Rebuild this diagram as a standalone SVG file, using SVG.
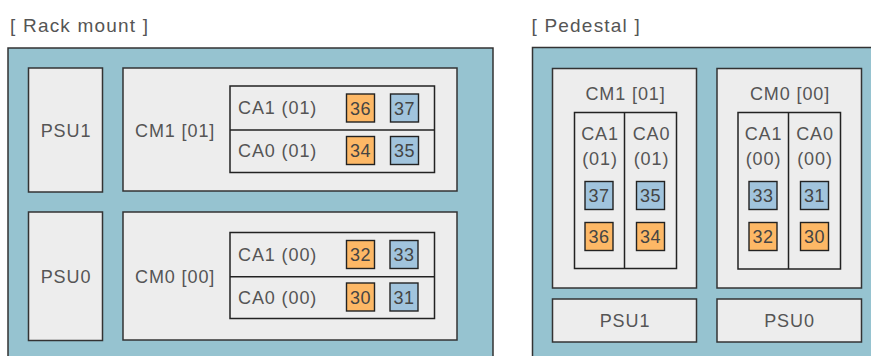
<svg xmlns="http://www.w3.org/2000/svg" width="871" height="356" viewBox="0 0 871 356">
<style>
  .enc { fill: #96C3D0; stroke: #333; stroke-width: 1.5; }
  .box { fill: #EDEDED; stroke: #333; stroke-width: 1.5; }
  .ca { fill: #EDEDED; stroke: #222; stroke-width: 1.5; }
  .div { stroke: #222; stroke-width: 1.5; }
  .o { fill: #FDB866; stroke: #222; stroke-width: 1.4; }
  .b { fill: #A1C4DD; stroke: #222; stroke-width: 1.4; }
  text { font-family: "Liberation Sans", Arial, sans-serif; fill: #555; }
  .ttl { font-size: 19px; letter-spacing: 1.2px; }
  .lbl { font-size: 18px; letter-spacing: 0.9px; }
  .mid { text-anchor: middle; }
  .num { font-size: 18px; letter-spacing: 0.4px; text-anchor: middle; fill: #444; }
</style>

<text class="ttl" x="10" y="31.5">[ Rack mount ]</text>
<text class="ttl" x="531.5" y="31.5">[ Pedestal ]</text>

<g id="rack">
  <rect class="enc" x="8" y="48" width="485" height="330"/>
  <g id="rack-psu1">
    <rect class="box" x="28.5" y="68" width="74" height="124"/>
    <text class="lbl mid" x="66" y="136.5">PSU1</text>
  </g>
  <g id="rack-cm1">
    <rect class="box" x="123" y="68" width="334" height="123"/>
    <text class="lbl" x="135" y="136.5">CM1 [01]</text>
    <rect class="ca" x="230" y="86" width="204.5" height="86.5"/>
    <line class="div" x1="230" y1="130" x2="434.5" y2="130"/>
    <text class="lbl" x="238" y="113.5">CA1 (01)</text>
    <text class="lbl" x="238" y="157">CA0 (01)</text>
    <rect class="o" x="346.5" y="94" width="28" height="28"/>
    <text class="num" x="360.5" y="114.5">36</text>
    <rect class="b" x="390.5" y="94" width="28" height="28"/>
    <text class="num" x="404.5" y="114.5">37</text>
    <rect class="o" x="346.5" y="136.5" width="28" height="28"/>
    <text class="num" x="360.5" y="157">34</text>
    <rect class="b" x="390.5" y="136.5" width="28" height="28"/>
    <text class="num" x="404.5" y="157">35</text>
  </g>
  <g id="rack-psu0">
    <rect class="box" x="28.5" y="212" width="74" height="128.5"/>
    <text class="lbl mid" x="66" y="282.5">PSU0</text>
  </g>
  <g id="rack-cm0">
    <rect class="box" x="123" y="212" width="334" height="128"/>
    <text class="lbl" x="135" y="282.5">CM0 [00]</text>
    <rect class="ca" x="230" y="232.5" width="204.5" height="86"/>
    <line class="div" x1="230" y1="276.7" x2="434.5" y2="276.7"/>
    <text class="lbl" x="238" y="260.5">CA1 (00)</text>
    <text class="lbl" x="238" y="303.5">CA0 (00)</text>
    <rect class="o" x="346.5" y="240.5" width="28" height="28"/>
    <text class="num" x="360.5" y="261">32</text>
    <rect class="b" x="390" y="240.5" width="28" height="28"/>
    <text class="num" x="404" y="261">33</text>
    <rect class="o" x="346.5" y="283" width="28" height="28"/>
    <text class="num" x="360.5" y="303.5">30</text>
    <rect class="b" x="390" y="283" width="28" height="28"/>
    <text class="num" x="404" y="303.5">31</text>
  </g>
</g>

<g id="pedestal">
  <rect class="enc" x="532.5" y="47.5" width="400" height="330"/>
  <g id="ped-cm1">
    <rect class="box" x="552.5" y="68.5" width="144" height="219.5"/>
    <text class="lbl mid" x="625.5" y="100">CM1 [01]</text>
    <rect class="ca" x="574.5" y="112.5" width="102" height="156"/>
    <line class="div" x1="624.5" y1="112.5" x2="624.5" y2="268.5"/>
    <text class="lbl mid" x="600" y="140">CA1</text>
    <text class="lbl mid" x="600" y="165">(01)</text>
    <text class="lbl mid" x="651.5" y="140">CA0</text>
    <text class="lbl mid" x="651.5" y="165">(01)</text>
    <rect class="b" x="585" y="181.5" width="28" height="28"/>
    <text class="num" x="599" y="202">37</text>
    <rect class="o" x="585" y="222.5" width="28" height="28"/>
    <text class="num" x="599" y="243">36</text>
    <rect class="b" x="636.5" y="181.5" width="28" height="28"/>
    <text class="num" x="650.5" y="202">35</text>
    <rect class="o" x="636.5" y="222.5" width="28" height="28"/>
    <text class="num" x="650.5" y="243">34</text>
  </g>
  <g id="ped-cm0">
    <rect class="box" x="717" y="68.5" width="144.5" height="219.5"/>
    <text class="lbl mid" x="790" y="100">CM0 [00]</text>
    <rect class="ca" x="738" y="112.5" width="102.5" height="156.5"/>
    <line class="div" x1="788.5" y1="112.5" x2="788.5" y2="269"/>
    <text class="lbl mid" x="763.5" y="140">CA1</text>
    <text class="lbl mid" x="763.5" y="165">(00)</text>
    <text class="lbl mid" x="815" y="140">CA0</text>
    <text class="lbl mid" x="815" y="165">(00)</text>
    <rect class="b" x="749" y="181.5" width="28" height="28"/>
    <text class="num" x="763" y="202">33</text>
    <rect class="o" x="749" y="222.5" width="28" height="28"/>
    <text class="num" x="763" y="243">32</text>
    <rect class="b" x="800.5" y="181.5" width="28" height="28"/>
    <text class="num" x="814.5" y="202">31</text>
    <rect class="o" x="800.5" y="222.5" width="28" height="28"/>
    <text class="num" x="814.5" y="243">30</text>
  </g>
  <g id="ped-psu1">
    <rect class="box" x="552.5" y="299" width="144" height="43"/>
    <text class="lbl mid" x="625" y="327">PSU1</text>
  </g>
  <g id="ped-psu0">
    <rect class="box" x="717" y="299" width="144.5" height="43"/>
    <text class="lbl mid" x="789.5" y="327">PSU0</text>
  </g>
</g>
</svg>
